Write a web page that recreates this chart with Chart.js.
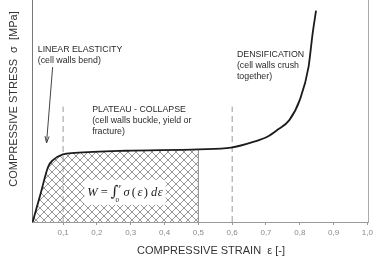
<!DOCTYPE html>
<html>
<head>
<meta charset="utf-8">
<script src="https://cdn.jsdelivr.net/npm/chart.js@4/dist/chart.umd.min.js"></script>
<style>
  html, body { margin: 0; padding: 0; background: #fff; }
  #wrap { width: 376px; height: 260px; }
</style>
</head>
<body>
<div id="wrap"><canvas id="foamChart" width="376" height="260"></canvas></div>
<script>
// stress-strain curve of the foam (stress in arbitrary units, no y ticks shown)
const STRAIN = [0.010, 0.033, 0.056, 0.070, 0.0995, 0.134, 0.285, 0.5, 0.597, 0.665, 0.704, 0.733, 0.769, 0.800, 0.826, 0.838, 0.848];
const STRESS = [0,     1.25,  2.5,   2.79,  3.05,   3.11,  3.21,  3.27, 3.35, 3.62, 3.84, 4.14, 4.59, 5.5,  7.0,  8.5,  9.52];

const STRAIN_TICKS = [0.1, 0.2, 0.3, 0.4, 0.5, 0.6, 0.7, 0.8, 0.9, 1.0];
const TICK_LABELS  = ['0,1', '0,2', '0,3', '0,4', '0,5', '0,6', '0,7', '0,8', '0,9', '1,0'];

const MARKER_STRAIN = [0.1, 0.6];   // dashed region boundaries
const MARKER_TOP    = 5.2;
const HATCH_END     = 0.5;          // energy area W is hatched up to here

const curve = STRAIN.map((s, i) => ({ x: s, y: STRESS[i] }));
const hatchPts = curve.filter(p => p.x <= HATCH_END);
const hatchTop = hatchPts[hatchPts.length - 1].y;

// cross hatch tile
function makeHatch() {
  const c = document.createElement('canvas');
  c.width = 8; c.height = 8;
  const g = c.getContext('2d');
  g.strokeStyle = '#8a8a8a';
  g.lineWidth = 0.9;
  g.beginPath();
  g.moveTo(-1, -1); g.lineTo(9, 9);
  g.moveTo(-1, 9);  g.lineTo(9, -1);
  g.stroke();
  return g.createPattern(c, 'repeat');
}

const NOTES = [
  { x: 0.025, y: 7.75, lines: ['LINEAR ELASTICITY', '(cell walls bend)'] },
  { x: 0.186, y: 5.05, lines: ['PLATEAU - COLLAPSE', '(cell walls buckle, yield or', 'fracture)'] },
  { x: 0.614, y: 7.52, lines: ['DENSIFICATION', '(cell walls crush', 'together)'] },
];
const ARROW = { from: { x: 0.069, y: 6.98 }, to: { x: 0.051, y: 3.56 } };
const FORMULA_AT = { x: 0.283, y: 1.36 };

const annotate = {
  id: 'annotate',
  afterDatasetsDraw(chart) {
    const { ctx, scales: { x, y } } = chart;
    ctx.save();

    // region notes
    ctx.fillStyle = '#2a2a2a';
    ctx.font = '8.8px "Liberation Sans", Arial, sans-serif';
    ctx.textBaseline = 'middle';
    ctx.textAlign = 'left';
    NOTES.forEach(n => {
      const px = x.getPixelForValue(n.x), py = y.getPixelForValue(n.y);
      n.lines.forEach((t, i) => ctx.fillText(t, px, py + i * 11));
    });

    // arrow
    const ax0 = x.getPixelForValue(ARROW.from.x), ay0 = y.getPixelForValue(ARROW.from.y);
    const ax1 = x.getPixelForValue(ARROW.to.x),   ay1 = y.getPixelForValue(ARROW.to.y);
    const ang = Math.atan2(ay1 - ay0, ax1 - ax0);
    ctx.strokeStyle = '#444';
    ctx.lineWidth = 1;
    ctx.beginPath();
    ctx.moveTo(ax0, ay0); ctx.lineTo(ax1, ay1);
    ctx.moveTo(ax1 - 7 * Math.cos(ang - 0.3), ay1 - 7 * Math.sin(ang - 0.3));
    ctx.lineTo(ax1, ay1);
    ctx.lineTo(ax1 - 7 * Math.cos(ang + 0.3), ay1 - 7 * Math.sin(ang + 0.3));
    ctx.stroke();

    // formula W = ∫ σ(ε) dε
    const parts = [
      { t: 'W', f: 'italic 12.5px "Liberation Serif", serif', gap: 3 },
      { t: '=', f: '12.5px "Liberation Serif", serif', gap: 3 },
      { t: '\u222B', f: '15px "DejaVu Serif", serif', gap: 0, lim: true },
      { t: '\u03C3', f: 'italic 12.5px "Liberation Serif", serif', gap: 2 },
      { t: '(', f: '12.5px "Liberation Serif", serif', gap: 1.5 },
      { t: '\u03B5', f: 'italic 12.5px "Liberation Serif", serif', gap: 1.5 },
      { t: ')', f: '12.5px "Liberation Serif", serif', gap: 3 },
      { t: 'd', f: 'italic 12.5px "Liberation Serif", serif', gap: 0.5 },
      { t: '\u03B5', f: 'italic 12.5px "Liberation Serif", serif', gap: 0 },
    ];
    let total = 0;
    parts.forEach(p => {
      ctx.font = p.f;
      p.w = ctx.measureText(p.t).width;
      total += p.w + p.gap + (p.lim ? 5 : 0);
    });
    const cx = x.getPixelForValue(FORMULA_AT.x), cy = y.getPixelForValue(FORMULA_AT.y);
    let fx = cx - total / 2;
    ctx.fillStyle = '#fff';
    ctx.fillRect(fx - 3, cy - 12, total + 6, 25);
    ctx.fillStyle = '#222';
    ctx.textBaseline = 'alphabetic';
    parts.forEach(p => {
      ctx.font = p.f;
      ctx.fillText(p.t, fx, cy + 4.5);
      fx += p.w;
      if (p.lim) {
        ctx.font = 'italic 7px "Liberation Serif", serif';
        ctx.fillText('\u03B5', fx, cy - 4);
        ctx.font = '7px "Liberation Serif", serif';
        ctx.fillText('0', fx - 3, cy + 10);
        fx += 5;
      }
      fx += p.gap;
    });

    ctx.restore();
  },
  afterDraw(chart) {
    const { ctx } = chart;
    ctx.save();
    ctx.fillStyle = '#333';
    ctx.font = '11px "Liberation Sans", Arial, sans-serif';
    ctx.textAlign = 'center';
    ctx.textBaseline = 'middle';
    ctx.fillText('COMPRESSIVE STRAIN  \u03B5 [-]', 211, 251);
    ctx.translate(13.5, 99);
    ctx.rotate(-Math.PI / 2);
    ctx.fillText('COMPRESSIVE STRESS  \u03C3  [MPa]', 0, 0);
    ctx.restore();
  }
};

const ctx = document.getElementById('foamChart').getContext('2d');
new Chart(ctx, {
  type: 'line',
  data: {
    datasets: [
      {
        data: curve,
        borderColor: '#1c1c1c',
        borderWidth: 1.8,
        cubicInterpolationMode: 'monotone',
        pointRadius: 0,
        fill: false,
      },
      ...MARKER_STRAIN.map(m => ({
        data: [{ x: m, y: 0 }, { x: m, y: MARKER_TOP }],
        borderColor: '#9a9a9a',
        borderWidth: 1,
        borderDash: [6, 4],
        pointRadius: 0,
        fill: false,
      })),
      {
        data: [{ x: HATCH_END, y: 0 }, { x: HATCH_END, y: hatchTop }],
        borderColor: '#888',
        borderWidth: 1,
        pointRadius: 0,
        fill: false,
      },
      {
        data: hatchPts,
        borderWidth: 0,
        borderColor: 'rgba(0,0,0,0)',
        backgroundColor: makeHatch(),
        cubicInterpolationMode: 'monotone',
        pointRadius: 0,
        fill: 'origin',
      },
    ]
  },
  options: {
    responsive: false,
    animation: false,
    events: [],
    layout: { padding: { left: 0, right: 4, top: 0, bottom: 0 }, autoPadding: false },
    plugins: { legend: { display: false }, tooltip: { enabled: false } },
    scales: {
      x: {
        type: 'linear',
        min: 0.008,
        max: 1.002,
        afterFit: s => { s.height = 38; },
        afterBuildTicks: s => { s.ticks = STRAIN_TICKS.map(v => ({ value: v })); },
        ticks: {
          callback: v => TICK_LABELS[STRAIN_TICKS.findIndex(t => Math.abs(t - v) < 1e-6)] ?? '',
          font: { family: '"Liberation Sans", Arial, sans-serif', size: 8 },
          color: '#8a8a8a',
          padding: 3,
          maxRotation: 0,
          autoSkip: false,
        },
        grid: { drawOnChartArea: false, tickLength: 3, color: '#9a9a9a' },
        border: { color: '#999', width: 1 },
      },
      y: {
        min: 0,
        max: 10,
        afterFit: s => { s.width = 32; },
        ticks: { display: false },
        grid: { drawOnChartArea: false, drawTicks: false },
        border: { color: '#777', width: 1 },
      },
      y2: {
        position: 'right',
        min: 0,
        max: 10,
        afterFit: s => { s.width = 0; },
        ticks: { display: false },
        grid: { drawOnChartArea: false, drawTicks: false },
        border: { color: '#aaa', width: 1 },
      }
    }
  },
  plugins: [annotate]
});
</script>
</body>
</html>
